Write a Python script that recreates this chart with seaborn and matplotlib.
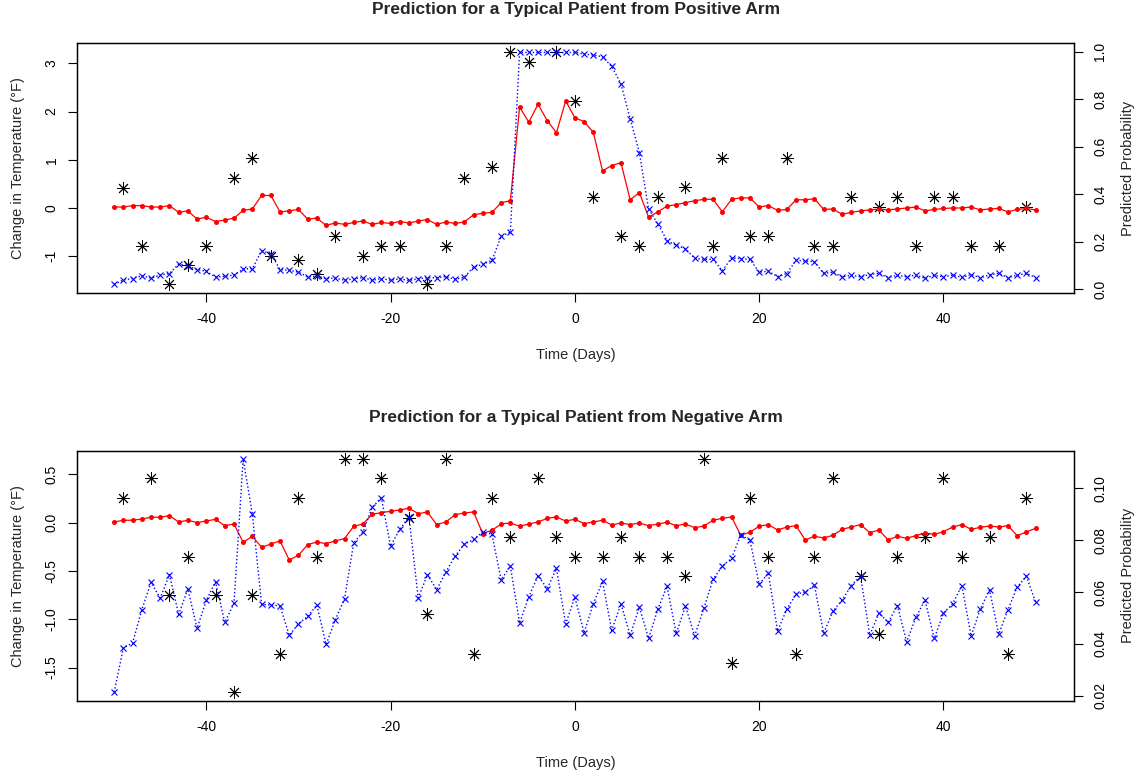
import numpy as np
import pandas as pd
import matplotlib
matplotlib.use("Agg")
import matplotlib.pyplot as plt
import seaborn as sns

# ---------------- data ----------------
days = list(range(-50, 51))

pos_pred_temp = [
    0.02, 0.02, 0.05, 0.05, 0.02, 0.02, 0.05, -0.09, -0.06, -0.23,
    -0.19, -0.28, -0.25, -0.21, -0.05, -0.02, 0.26, 0.26, -0.08, -0.06,
    -0.03, -0.23, -0.21, -0.36, -0.31, -0.34, -0.30, -0.27, -0.34, -0.30,
    -0.32, -0.28, -0.31, -0.27, -0.24,
    -0.34, -0.29, -0.32, -0.29, -0.14, -0.11, -0.09, 0.11, 0.15, 2.09,
    1.78, 2.15, 1.81, 1.56, 2.22, 1.87, 1.79, 1.57, 0.77, 0.88,
    0.94, 0.17, 0.32, -0.19, -0.08, 0.04, 0.07, 0.11, 0.15, 0.18,
    0.18, -0.08, 0.18, 0.21, 0.21,
    0.02, 0.05, -0.05, -0.03, 0.17, 0.17, 0.19, -0.03, -0.02, -0.13,
    -0.09, -0.06, -0.04, -0.02, -0.04, -0.02, 0.00, 0.02, -0.06, -0.03,
    -0.01, 0.00, 0.00, 0.02, -0.04, -0.02, -0.01, -0.08, -0.03, -0.01,
    -0.04,
]
pos_pred_prob = [
    0.021, 0.039, 0.045, 0.057, 0.047, 0.060, 0.066, 0.106, 0.098, 0.083,
    0.076, 0.051, 0.055, 0.060, 0.085, 0.087, 0.162, 0.150, 0.083, 0.080,
    0.072, 0.052, 0.056, 0.045, 0.047, 0.038, 0.044, 0.049, 0.038, 0.045,
    0.038, 0.044, 0.037, 0.045, 0.048,
    0.049, 0.053, 0.042, 0.051, 0.093, 0.105, 0.122, 0.223, 0.241, 0.997,
    0.997, 0.997, 0.997, 0.997, 0.997, 0.997, 0.990, 0.986, 0.979, 0.938,
    0.865, 0.718, 0.575, 0.337, 0.276, 0.205, 0.185, 0.171, 0.130, 0.126,
    0.126, 0.078, 0.132, 0.129, 0.126,
    0.072, 0.076, 0.053, 0.066, 0.122, 0.119, 0.116, 0.067, 0.072, 0.052,
    0.059, 0.052, 0.062, 0.067, 0.049, 0.059, 0.052, 0.060, 0.046, 0.059,
    0.052, 0.060, 0.050, 0.062, 0.048, 0.060, 0.067, 0.049, 0.059, 0.067,
    0.049,
]
pos_obs_days = [-49, -47, -44, -42, -40, -37, -35, -33, -30, -28,
                -26, -23, -21, -19, -16, -14, -12, -9, -7, -5,
                -2, 0, 2, 5, 7, 9, 12, 15, 16, 19,
                21, 23, 26, 28, 30, 33, 35, 37, 39, 41,
                43, 46, 49]
pos_obs_temp = [0.42, -0.78, -1.58, -1.19, -0.78, 0.63, 1.03, -0.99, -1.08, -1.37,
                -0.58, -0.99, -0.78, -0.78, -1.58, -0.78, 0.63, 0.84, 3.23, 3.03,
                3.23, 2.22, 0.22, -0.58, -0.78, 0.22, 0.43, -0.78, 1.03, -0.58,
                -0.58, 1.03, -0.78, -0.78, 0.22, 0.03, 0.22, -0.78, 0.22, 0.22,
                -0.78, -0.78, 0.03]

neg_pred_temp = [
    0.007, 0.025, 0.025, 0.038, 0.056, 0.056, 0.073, 0.007, 0.025, 0.000,
    0.017, 0.035, -0.031, -0.014, -0.203, -0.141, -0.255, -0.221, -0.189, -0.386,
    -0.338, -0.227, -0.200, -0.217, -0.189, -0.165, -0.037, -0.014, 0.087, 0.104,
    0.118, 0.132, 0.149, 0.094, 0.109,
    -0.020, 0.007, 0.083, 0.100, 0.111, -0.113, -0.079, -0.014, -0.003, -0.037,
    -0.014, 0.007, 0.045, 0.059, 0.017, 0.035, -0.010, 0.007, 0.025, -0.024,
    -0.003, -0.020, -0.003, -0.031, -0.014, 0.004, -0.031, -0.014, -0.052, -0.035,
    0.025, 0.045, 0.059, -0.130, -0.099,
    -0.037, -0.020, -0.076, -0.045, -0.031, -0.179, -0.141, -0.158, -0.131, -0.069,
    -0.045, -0.020, -0.103, -0.076, -0.179, -0.141, -0.162, -0.134, -0.107, -0.121,
    -0.093, -0.045, -0.020, -0.069, -0.048, -0.035, -0.045, -0.031, -0.134, -0.097,
    -0.058,
]
neg_pred_prob = [
    0.0214, 0.0385, 0.0403, 0.0532, 0.0637, 0.0577, 0.0667, 0.0514, 0.0612, 0.0460,
    0.0568, 0.0640, 0.0483, 0.0556, 0.1112, 0.0901, 0.0553, 0.0550, 0.0547, 0.0433,
    0.0478, 0.0506, 0.0550, 0.0398, 0.0493, 0.0574, 0.0790, 0.0831, 0.0927, 0.0963,
    0.0777, 0.0842, 0.0889, 0.0577, 0.0667,
    0.0609, 0.0678, 0.0739, 0.0784, 0.0803, 0.0831, 0.0823, 0.0647, 0.0700, 0.0480,
    0.0582, 0.0663, 0.0613, 0.0691, 0.0477, 0.0580, 0.0443, 0.0555, 0.0641, 0.0452,
    0.0555, 0.0433, 0.0542, 0.0421, 0.0534, 0.0622, 0.0441, 0.0546, 0.0431, 0.0538,
    0.0649, 0.0700, 0.0730, 0.0820, 0.0800,
    0.0630, 0.0673, 0.0450, 0.0534, 0.0592, 0.0600, 0.0626, 0.0441, 0.0526, 0.0569,
    0.0625, 0.0662, 0.0434, 0.0519, 0.0483, 0.0548, 0.0408, 0.0502, 0.0569, 0.0421,
    0.0519, 0.0555, 0.0625, 0.0431, 0.0535, 0.0608, 0.0438, 0.0532, 0.0619, 0.0661,
    0.0561,
]
neg_obs_days = [-49, -46, -44, -42, -39, -37, -35, -32, -30, -28,
                -25, -23, -21, -18, -16, -14, -11, -9, -7, -4,
                -2, 0, 3, 5, 7, 10, 12, 14, 17, 19,
                21, 24, 26, 28, 31, 33, 35, 38, 40, 42,
                45, 47, 49]
neg_obs_temp = [0.252, 0.459, -0.748, -0.352, -0.748, -1.756, -0.748, -1.359, 0.252, -0.352,
                0.656, 0.656, 0.459, 0.052, -0.948, 0.656, -1.359, 0.252, -0.151, 0.459,
                -0.151, -0.352, -0.352, -0.151, -0.352, -0.352, -0.552, 0.656, -1.450, 0.252,
                -0.352, -1.359, -0.352, 0.459, -0.552, -1.155, -0.352, -0.151, 0.459, -0.352,
                -0.151, -1.359, 0.252]

titles = ["Prediction for a Typical Patient from Positive Arm",
          "Prediction for a Typical Patient from Negative Arm"]
x_ticks = [-40, -20, 0, 20, 40]
pos_left_ticks = [-1, 0, 1, 2, 3]
pos_right_ticks = [0.0, 0.2, 0.4, 0.6, 0.8, 1.0]
neg_left_ticks = [-1.5, -1.0, -0.5, 0.0, 0.5]
neg_right_ticks = [0.02, 0.04, 0.06, 0.08, 0.10]

# ---------------- style ----------------
sns.set_style("white")
plt.rcParams['font.family'] = ['Liberation Sans', 'DejaVu Sans']

W, H = 1142, 778
fig = plt.figure(figsize=(W / 100, H / 100), dpi=100)

def frac_axes(left, top, right, bottom):
    return [left / W, 1 - bottom / H, (right - left) / W, (bottom - top) / H]

TICK_FS = 10
LAB_FS = 10.5
TITLE_FS = 12.5


def panel(rect, pred_t, pred_p, obs_d, obs_t, title, lticks, rticks,
          lfmt, rfmt, ylim_l, ylim_r):
    ax = fig.add_axes(rect)
    sns.scatterplot(x=obs_d, y=obs_t, ax=ax, marker=(8, 2, 0), s=75,
                    color="black", linewidth=0.65, zorder=3)
    sns.lineplot(x=days, y=pred_t, ax=ax, color="red", marker="o",
                 markersize=3.6, markeredgewidth=0, markeredgecolor="red",
                 linewidth=0.9, zorder=4)
    ax.set_xlim(-54, 54.2)
    ax.set_ylim(*ylim_l)
    ax.set_xticks(x_ticks)
    ax.set_xticklabels([str(v) for v in x_ticks])
    ax.set_yticks(lticks)
    ax.set_yticklabels([lfmt.format(v) for v in lticks])
    ax.tick_params(axis="both", direction="out", length=6.5, width=0.8,
                   colors="black", labelsize=TICK_FS, pad=7, left=True, bottom=True)
    ax.tick_params(axis="y", labelrotation=90)
    for lab in ax.get_yticklabels():
        lab.set_va("center")
    ax.set_xlabel("Time (Days)", fontsize=LAB_FS)
    ax.set_ylabel("Change in Temperature (\u00b0F)", fontsize=LAB_FS)
    ax.xaxis.set_label_coords(0.5, -0.246)
    ax.xaxis.label.set_va("center")
    ax.yaxis.set_label_coords(-0.0595, 0.5)
    ax.yaxis.label.set_va("center")
    ax.text(0.5, 1.133, title, transform=ax.transAxes, ha="center", va="center",
            fontsize=TITLE_FS, fontweight="bold")

    ax2 = ax.twinx()
    sns.lineplot(x=days, y=pred_p, ax=ax2, color="blue", marker="x",
                 markersize=4, markeredgewidth=0.8, markeredgecolor="blue",
                 linewidth=1.0, linestyle=":", zorder=5)
    ax2.set_ylim(*ylim_r)
    ax2.set_yticks(rticks)
    ax2.set_yticklabels([rfmt.format(v) for v in rticks])
    ax2.tick_params(axis="y", direction="out", length=6.5, width=0.8,
                    colors="black", labelsize=TICK_FS, pad=7, right=True,
                    labelrotation=90)
    for lab in ax2.get_yticklabels():
        lab.set_va("center")
    ax2.set_ylabel("Predicted Probability", fontsize=LAB_FS)
    ax2.yaxis.set_label_coords(1.054, 0.5)
    ax2.yaxis.label.set_va("center")
    ax2.yaxis.label.set_rotation(90)
    for a in (ax, ax2):
        for sp in a.spines.values():
            sp.set_visible(True)
            sp.set_color("black")
            sp.set_linewidth(0.9)
    return ax, ax2


panel(frac_axes(77.3, 42.7, 1074.3, 293.3), pos_pred_temp, pos_pred_prob,
      pos_obs_days, pos_obs_temp, titles[0], pos_left_ticks, pos_right_ticks,
      "{:d}", "{:.1f}", (-1.768, 3.426), (-0.017, 1.038))

panel(frac_axes(77.3, 450.7, 1074.3, 701.0), neg_pred_temp, neg_pred_prob,
      neg_obs_days, neg_obs_temp, titles[1], neg_left_ticks, neg_right_ticks,
      "{:.1f}", "{:.2f}", (-1.846, 0.745), (0.018, 0.1145))

fig.savefig("out.png", dpi=100)
